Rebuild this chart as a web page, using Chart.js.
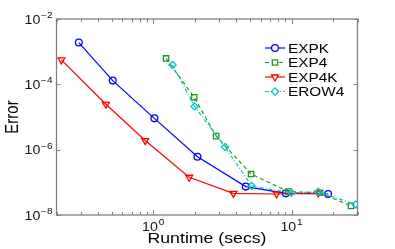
<!DOCTYPE html>
<html>
<head>
<meta charset="utf-8">
<script src="https://cdn.jsdelivr.net/npm/chart.js@4/dist/chart.umd.min.js"></script>
<style>
html,body{margin:0;padding:0;background:#fff;}
#wrap{width:395px;height:249px;position:relative;}
</style>
</head>
<body>
<div id="wrap"><canvas id="c" width="395" height="249"></canvas></div>
<script>
// ---- data ----
const seriesNames = ['EXPK', 'EXP4', 'EXP4K', 'EROW4'];
const expkRuntime  = [0.29, 0.51, 1.02, 2.09, 4.67, 9.1, 18.4];
const expkError    = [1.9e-3, 1.3e-4, 9.1e-6, 6.1e-7, 7.4e-8, 4.6e-8, 4.4e-8];
const exp4Runtime  = [1.24, 1.98, 2.85, 5.1, 9.5, 16.1, 26.9];
const exp4Error    = [6.2e-4, 4.0e-5, 2.6e-6, 1.8e-7, 5.2e-8, 4.8e-8, 1.9e-8];
const exp4kRuntime = [0.217, 0.455, 0.876, 1.82, 3.8, 7.8, 15.6];
const exp4kError   = [5.6e-4, 2.45e-5, 1.9e-6, 1.43e-7, 4.6e-8, 4.4e-8, 4.7e-8];
const erow4Runtime = [1.38, 1.99, 3.31, 5.16, 10.0, 15.6, 29.1];
const erow4Error   = [3.9e-4, 2.1e-5, 1.2e-6, 7.7e-8, 4.8e-8, 5.1e-8, 2.1e-8];
const xTickExponents = [0, 1];
const yTickExponents = [-2, -4, -6, -8];
const xTitle = 'Runtime (secs)';
const yTitle = 'Error';

function pts(xs, ys){ return xs.map((x,i)=>({x:x, y:ys[i]})); }

const SX = 1.18; // horizontal stretch of the reference's text
const FONT = '"Liberation Sans", Arial, Helvetica, sans-serif';

const datasets = [
  {label: seriesNames[0], data: pts(expkRuntime, expkError), borderColor:'#0000ff', pointStyle:'circle', pointRadius:3.4, pointRotation:0, borderDash:[]},
  {label: seriesNames[1], data: pts(exp4Runtime, exp4Error), borderColor:'#1e9b1e', pointStyle:'rect', pointRadius:3.8, pointRotation:0, borderDash:[4,3]},
  {label: seriesNames[2], data: pts(exp4kRuntime, exp4kError), borderColor:'#ff0000', pointStyle:'triangle', pointRadius:4, pointRotation:180, borderDash:[]},
  {label: seriesNames[3], data: pts(erow4Runtime, erow4Error), borderColor:'#00c8c8', pointStyle:'rectRot', pointRadius:3.6, pointRotation:0, borderDash:[4,2,1,2]}
].map((d,i)=>Object.assign(d,{
  showLine:true, borderWidth:1.2, pointBorderColor:d.borderColor, pointBackgroundColor:'rgba(255,255,255,0)',
  pointBorderWidth:1.3, fill:false, tension:0, order:-i
}));

function stretchedText(ctx, txt, x, y, align, font){
  ctx.save();
  ctx.font = font;
  ctx.textBaseline = 'alphabetic';
  ctx.textAlign = 'left';
  const w = ctx.measureText(txt).width * SX;
  let x0 = x;
  if (align === 'center') x0 = x - w/2;
  else if (align === 'right') x0 = x - w;
  ctx.translate(x0, y);
  ctx.scale(SX, 1);
  ctx.fillText(txt, 0, 0);
  ctx.restore();
  return w;
}
function powerLabel(ctx, exp, x, y, align){
  // y = baseline of "10"
  const base = '10', sup = String(exp).replace('-', '\u2212');
  const fBase = '12px ' + FONT, fSup = '8.5px ' + FONT;
  ctx.save();
  ctx.font = fBase; const wb = ctx.measureText(base).width * SX;
  ctx.font = fSup; const ws = ctx.measureText(sup).width * SX;
  ctx.restore();
  const total = wb + 0.8 + ws;
  let x0 = x;
  if (align === 'center') x0 = x - total/2;
  else if (align === 'right') x0 = x - total;
  stretchedText(ctx, base, x0, y, 'left', fBase);
  stretchedText(ctx, sup, x0 + wb + 0.8, y - 5.4, 'left', fSup);
}

const decor = {
  id: 'decor',
  afterDatasetsDraw(chart){
    const ctx = chart.ctx, a = chart.chartArea;
    const xs = chart.scales.x, ys = chart.scales.y;
    ctx.save();
    ctx.fillStyle = '#000';
    // axes box
    ctx.strokeStyle = '#808080';
    ctx.lineWidth = 1.3;
    ctx.strokeRect(a.left, a.top, a.right - a.left, a.bottom - a.top);
    // x ticks (log minor + major)
    ctx.lineWidth = 1;
    for (let dec = -1; dec <= 1; dec++) {
      for (let m = 1; m <= 9; m++) {
        const v = m * Math.pow(10, dec);
        if (v < xs.min - 1e-9 || v > xs.max + 1e-9) continue;
        const px = Math.round(xs.getPixelForValue(v)) + 0.5;
        const len = (m === 1) ? 5 : 3;
        ctx.beginPath();
        ctx.moveTo(px, a.bottom); ctx.lineTo(px, a.bottom - len);
        ctx.moveTo(px, a.top); ctx.lineTo(px, a.top + len);
        ctx.stroke();
      }
    }
    // y ticks
    yTickExponents.forEach(e => {
      const py = Math.round(ys.getPixelForValue(Math.pow(10, e))) + 0.5;
      ctx.beginPath();
      ctx.moveTo(a.left, py); ctx.lineTo(a.left + 4, py);
      ctx.moveTo(a.right, py); ctx.lineTo(a.right - 4, py);
      ctx.stroke();
    });
    // tick labels
    ctx.fillStyle = '#111';
    xTickExponents.forEach(e => {
      const px = xs.getPixelForValue(Math.pow(10, e));
      powerLabel(ctx, e, px, a.bottom + 15.5, 'center');
    });
    yTickExponents.forEach(e => {
      const py = ys.getPixelForValue(Math.pow(10, e));
      powerLabel(ctx, e, a.left - 4, py + 4.5, 'right');
    });
    // axis titles
    ctx.fillStyle = '#000';
    stretchedText(ctx, xTitle, (a.left + a.right)/2, 243, 'center', '15px ' + FONT);
    ctx.save();
    ctx.translate(13, (a.top + a.bottom)/2);
    ctx.rotate(-Math.PI/2);
    ctx.scale(1, SX);
    ctx.font = '15px ' + FONT;
    ctx.textAlign = 'center';
    ctx.textBaseline = 'middle';
    ctx.fillText(yTitle, 0, 0);
    ctx.restore();
    // legend
    const lx0 = 265, lx1 = 285, tx = 288, ly0 = 48, dy = 14.5;
    chart.data.datasets.forEach((d, i) => {
      const y = ly0 + i * dy;
      ctx.save();
      ctx.strokeStyle = d.borderColor;
      ctx.lineWidth = d.borderWidth;
      ctx.setLineDash(d.borderDash || []);
      ctx.beginPath(); ctx.moveTo(lx0, y); ctx.lineTo(lx1, y); ctx.stroke();
      ctx.setLineDash([]);
      ctx.lineWidth = d.pointBorderWidth;
      ctx.fillStyle = '#fff';
      Chart.helpers.drawPoint(ctx, {pointStyle: d.pointStyle, radius: d.pointRadius, rotation: d.pointRotation, borderWidth: d.pointBorderWidth}, (lx0 + lx1)/2, y);
      ctx.restore();
      ctx.fillStyle = '#000';
      stretchedText(ctx, d.label, tx, y + 4.7, 'left', '13px ' + FONT);
    });
    ctx.restore();
  }
};

new Chart(document.getElementById('c'), {
  type: 'scatter',
  data: { datasets: datasets },
  options: {
    responsive: false,
    animation: false,
    devicePixelRatio: 1,
    layout: { padding: { left: 56.5, right: 37.5, top: 19, bottom: 34 } },
    plugins: { legend: { display: false }, tooltip: { enabled: false } },
    scales: {
      x: { type: 'logarithmic', min: 0.2, max: 30, display: false },
      y: { type: 'logarithmic', min: 1e-8, max: 1e-2, display: false }
    }
  },
  plugins: [decor]
});
</script>
</body>
</html>
